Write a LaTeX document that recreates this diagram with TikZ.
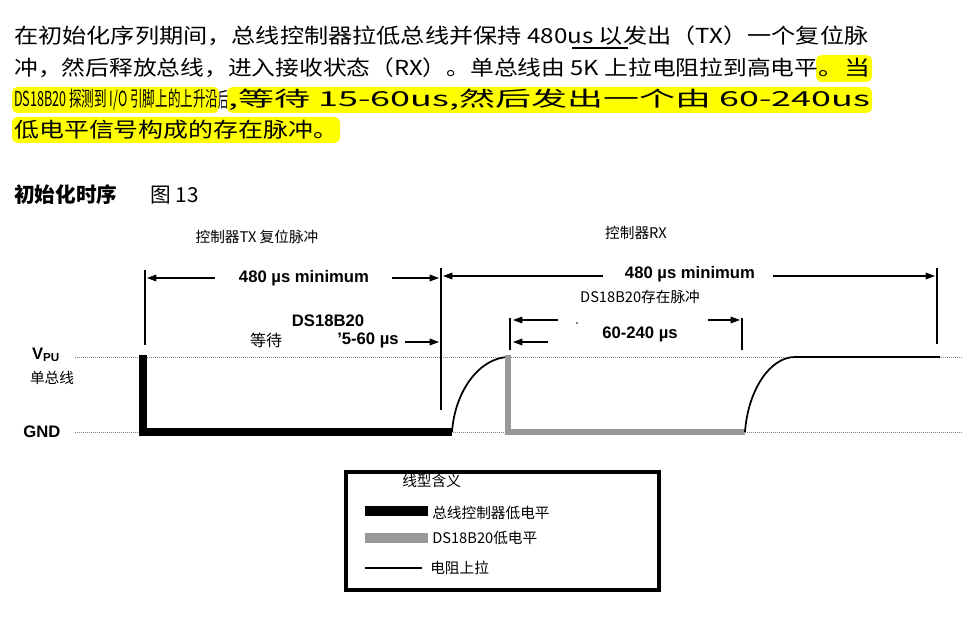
\documentclass[tikz,border=0pt]{standalone}
\usepackage{fontspec}
\setmainfont{Liberation Sans}
\newfontfamily\cjk{Noto Sans CJK SC}
\usetikzlibrary{arrows.meta}
\newlength\pxu \setlength\pxu{0.75pt}
\definecolor{hl}{HTML}{FFFF00}
\definecolor{gr}{HTML}{999999}
\newcommand\fitline[2]{\resizebox{#1\pxu}{\height}{#2}}
\begin{document}
\begin{tikzpicture}[x=0.75pt,y=-0.75pt,
  para/.style={anchor=west,inner sep=0pt,font=\cjk\fontsize{15.5}{18}\selectfont},
  hlbox/.style={fill=hl,rounded corners=4pt},
  lab/.style={inner sep=0pt,font=\cjk\fontsize{11}{13}\selectfont},
  big/.style={inner sep=0pt,font=\bfseries\fontsize{12.5}{14}\selectfont},
  tick/.style={line width=0.8pt},
  dim/.style={line width=0.8pt,-{Triangle[length=7pt,width=5pt]}},
  dots/.style={densely dotted,line width=0.5pt,gray},
  ctl/.style={line width=6pt},
  ds/.style={line width=5pt,gr},
  pull/.style={line width=1.3pt}]
\useasboundingbox (0,0) rectangle (963,624);
% highlights
\fill[hlbox] (816,55) rectangle (872,82);
\fill[hlbox] (12,87) rectangle (219,113);
\fill[hlbox] (227,87) rectangle (872,113);
\fill[hlbox] (12,117) rectangle (340,143);
% paragraph
\node[para] (l1) at (14,36) {\fitline{854}{在初始化序列期间，总线控制器拉低总线并保持 480us 以发出（TX）一个复位脉}};
\draw[line width=1.2pt] (572,48) -- (628,48);
\node[para] (l2a) at (14,68) {\fitline{804}{冲，然后释放总线，进入接收状态（RX）。单总线由 5K 上拉电阻拉到高电平}};
\node[para] (l2b) at (818,68) {\fitline{52}{。当}};
\node[para] (l3a) at (14,100) {\fitline{204}{DS18B20 探测到 I/O 引脚上的上升沿}};
\node[para] (l3b) at (218,100) {\fitline{10}{后}};
\node[para] (l3c) at (228,100) {\fitline{642}{,等待 15-60us,然后发出一个由 60-240us}};
\node[para] (l4) at (14,130) {\fitline{324}{低电平信号构成的存在脉冲。}};
\node[para,font=\cjk\bfseries\fontsize{15.5}{18}\selectfont] (t1) at (14,195) {初始化时序};
\node[para] (t2) at (150,195) {图 13};
% top labels
\node[lab] (tx) at (257,237) {控制器TX 复位脉冲};
\node[lab] (rx) at (636,233) {控制器RX};
% level lines
\draw[dots] (75,357) -- (963,357);
\draw[dots] (75,432) -- (963,432);
\node[big] (vpu) at (46,355) {V\textsubscript{PU}};
\node[lab] (bus) at (52,378) {单总线};
\node[big] (gnd) at (42,432) {GND};
% waveform
\coordinate (a0) at (143,357); \coordinate (a1) at (143,432); \coordinate (a2) at (452,432);
\draw[ctl] (143,355) -- (a1) -- (a2);
\draw[pull] (452,432) .. controls (455,390) and (480,358) .. (508,357);
\draw[ds] (508,355) -- (508,432) -- (745,432);
\draw[pull] (745,432) .. controls (748,390) and (770,357) .. (795,357) -- (940,357);
% ticks
\draw[tick] (145,270) -- (145,345);
\draw[tick] (441,268) -- (441,410);
\draw[tick] (937,268) -- (937,344);
\draw[tick] (510,318) -- (510,350);
\draw[tick] (742,318) -- (742,350);
% dimension arrows
\node[big] (d1) at (304,278) {480 µs minimum};
\draw[dim] (215,278) -- (147,278);
\draw[dim] (392,278) -- (439,278);
\node[big] (d2) at (690,274) {480 µs minimum};
\draw[dim] (603,276) -- (443,276);
\draw[dim] (773,276) -- (935,276);
\node[big] (ds) at (328,321) {DS18B20};
\node[lab,font=\cjk\fontsize{12}{14}\selectfont] (wait) at (266,340) {等待};
\node[big] (w15) at (368,340) {'5-60 µs};
\draw[dim] (405,342) -- (439,342);
\node[lab] (pres) at (640,297) {DS18B20存在脉冲};
\node[big] (d3) at (640,334) {60-240 µs};
\draw[dim] (558,320) -- (513,320);
\draw[dim] (548,342) -- (513,342);
\draw[dim] (708,320) -- (740,320);
\fill (577,323) circle (0.8);
% legend
\draw[line width=3.5pt] (346,472) rectangle (659,590);
\node[lab,anchor=west] (lt) at (402,481) {线型含义};
\draw[line width=7pt] (365,511) -- (428,511);
\node[lab,anchor=west] (l1t) at (432,513) {总线控制器低电平};
\draw[line width=7pt,gr] (365,538) -- (428,538);
\node[lab,anchor=west] (l2t) at (432,538) {DS18B20低电平};
\draw[line width=1pt] (365,568) -- (422,568);
\node[lab,anchor=west] (l3t) at (430,568) {电阻上拉};
\end{tikzpicture}
\end{document}
